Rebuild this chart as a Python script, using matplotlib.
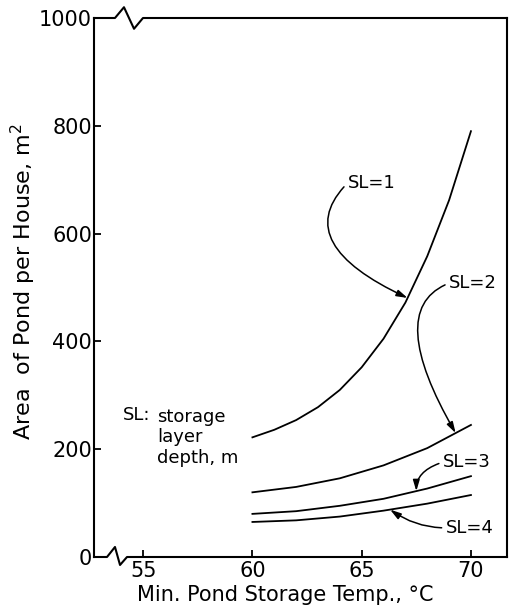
"""
pond area per house vs minimum pond storage temperature
four storage layer depths
"""

import numpy as np
import matplotlib.pyplot as plt

# data
temp_sl1 = [60, 61, 62, 63, 64, 65, 66, 67, 68, 69, 70]
area_sl1 = [222, 236, 254, 278, 310, 352, 405, 472, 558, 662, 790]

temp = [60, 62, 64, 66, 68, 70]
area_sl2 = [120, 130, 146, 170, 202, 245]
area_sl3 = [80, 85, 95, 108, 127, 150]
area_sl4 = [65, 68, 75, 86, 99, 115]

x_ticks = [55, 60, 65, 70]
y_ticks = [0, 200, 400, 600, 800, 1000]

plt.rc('font', family='DejaVu Sans')
ftsize = 13

fig_w, fig_h = 513, 615
fig = plt.figure(figsize=(fig_w / 100, fig_h / 100), dpi=100)
ax = fig.add_axes([94 / fig_w, 58 / fig_h, 413 / fig_w, 539 / fig_h])

lw = 1.3
ax.plot(temp_sl1, area_sl1, c='k', lw=lw, solid_joinstyle='round')
ax.plot(temp, area_sl2, c='k', lw=lw, solid_joinstyle='round')
ax.plot(temp, area_sl3, c='k', lw=lw, solid_joinstyle='round')
ax.plot(temp, area_sl4, c='k', lw=lw, solid_joinstyle='round')

ax.set_xlim(52.75, 71.65)
ax.set_ylim(0, 1000)
ax.set_xticks(x_ticks)
ax.set_yticks(y_ticks)
ax.tick_params(direction='in', length=5, width=1.3, labelsize=15)
ax.tick_params(axis='y', pad=1.5)
ax.tick_params(axis='x', pad=3.0)

# spines, with broken top and bottom axes
for side in ['left', 'right']:
    ax.spines[side].set_linewidth(1.5)
ax.spines['top'].set_visible(False)
ax.spines['bottom'].set_visible(False)
ax.plot([0, 0.0508, 0.0726, 0.0969, 0.1186, 1], [1, 1, 1.02, 0.98, 1, 1],
        c='k', lw=1.5, transform=ax.transAxes, clip_on=False)
ax.plot([0, 0.0315, 0.0508, 0.063, 0.0799, 1], [0, 0, 0.0186, -0.0148, 0, 0],
        c='k', lw=1.5, transform=ax.transAxes, clip_on=False)

# curve labels with arrows
labels = [('SL=1', temp_sl1, area_sl1, 67.1, (64.36, 694), 45, -25),
          ('SL=2', temp, area_sl2, 69.3, (69.0, 508), 21, -60),
          ('SL=3', temp, area_sl3, 67.5, (68.72, 176), 17, 90),
          ('SL=4', temp, area_sl4, 66.3, (68.85, 54), 0, -35)]
for text, tx, ty, xtip, xytext, angA, angB in labels:
    ytip = np.interp(xtip, tx, ty)
    ax.annotate(text, xy=(xtip, ytip), xytext=xytext,
                ha='left', va='center', fontsize=ftsize,
                arrowprops=dict(arrowstyle='-|>,head_length=0.5,head_width=0.15',
                                connectionstyle='angle3,angleA={0},angleB={1}'.format(angA, angB),
                                color='k', lw=1.1, relpos=(0, 0.5),
                                shrinkA=1, shrinkB=0))

ax.text(54.08, 263, 'SL:', ha='left', va='center', fontsize=ftsize)
ax.text(55.64, 222, 'storage\nlayer\ndepth, m', ha='left', va='center',
        fontsize=ftsize, linespacing=1.2)

ax.set_xlabel('Min. Pond Storage Temp., °C', fontsize=15, va='center')
ax.xaxis.set_label_coords(0.4625, -0.0705)
ax.set_ylabel('Area  of Pond per House, m$^2$', fontsize=16, va='center')
ax.yaxis.set_label_coords(-0.17, 0.51)

plt.savefig('out.png', dpi=100)
